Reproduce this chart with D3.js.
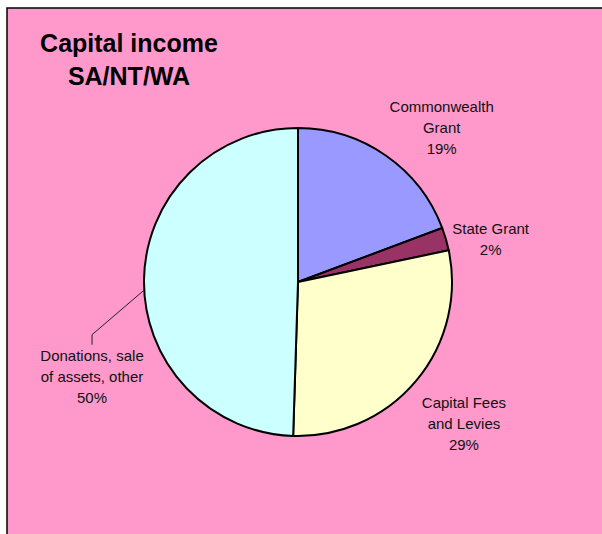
<!DOCTYPE html>
<html>
<head>
<meta charset="utf-8">
<script src="https://cdn.jsdelivr.net/npm/d3@7/dist/d3.min.js"></script>
<style>
  html, body { margin: 0; padding: 0; background: #fff; }
  svg { display: block; font-family: Arial, "Liberation Sans", sans-serif; }
</style>
</head>
<body>
<div id="chart"></div>
<script>
// chart data
var categories = ["Commonwealth Grant", "State Grant", "Capital Fees and Levies", "Donations, sale of assets, other"]
var labelLines = [["Commonwealth", "Grant"], ["State Grant"], ["Capital Fees", "and Levies"], ["Donations, sale", "of assets, other"]]
var shares = [19.3, 2.4, 28.8, 49.5]
var colors = ["#9999ff", "#993366", "#ffffcc", "#ccffff"]
var titleLines = ["Capital income", "SA/NT/WA"]

// layout tweaks for the labels (Excel does not put them exactly on the centroid)
var labelNudge = [[24, 19], [-9, 16], [5, 7], [4, 98]]

var width = 602, height = 534
var cx = 298, cy = 282, radius = 154
var lineH = 21

var svg = d3.select("#chart").append("svg").attr("width", width).attr("height", height)

// pink chart area with its frame
svg.append("rect").attr("x", 7).attr("y", 8).attr("width", width + 10).attr("height", height + 10)
    .style("fill", "#ff99cc").style("stroke", "#000").style("stroke-width", 1.5)

// title
svg.append("g").selectAll("text")
    .data(titleLines)
    .enter().append("text")
    .attr("x", 129)
    .attr("y", function(d, i) { return 52 + i * 33 })
    .attr("text-anchor", "middle")
    .style("font-size", "25px")
    .style("font-weight", "bold")
    .style("fill", "#000")
    .text(function(d) { return d })

var pie = d3.pie().sort(null).value(function(d) { return d })
var arcs = pie(shares)
var arc = d3.arc().innerRadius(0).outerRadius(radius)
var labelArc = d3.arc().innerRadius(210).outerRadius(210)

var g = svg.append("g").attr("transform", "translate(" + cx + "," + cy + ")")

g.selectAll(".slice")
    .data(arcs)
    .enter().append("path")
    .attr("class", "slice")
    .attr("d", arc)
    .style("fill", function(d, i) { return colors[i] })
    .style("stroke", "#000")
    .style("stroke-width", 2)
    .style("stroke-linejoin", "round")

// labels
var labels = g.selectAll(".lbl")
    .data(arcs)
    .enter().append("text")
    .attr("class", "lbl")
    .attr("text-anchor", "middle")
    .style("font-size", "15px")
    .style("fill", "#111")
    .each(function(d, i) {
        var c = labelArc.centroid(d)
        var x = c[0] + labelNudge[i][0]
        var yc = c[1] + labelNudge[i][1]
        var lines = labelLines[i].concat([Math.round(d.data) + "%"])
        var y0 = yc - (lines.length - 1) * lineH / 2 + 5
        var t = d3.select(this)
        lines.forEach(function(s, k) {
            t.append("tspan").attr("x", x).attr("y", y0 + k * lineH).text(s)
        })
    })

// leader line for the donations label
var dIdx = 3
var dc = labelArc.centroid(arcs[dIdx])
var lx = dc[0] + labelNudge[dIdx][0]
var lTop = dc[1] + labelNudge[dIdx][1] - (labelLines[dIdx].length) * lineH / 2 - 11
var a = 267 * Math.PI / 180
var start = [radius * Math.sin(a), -radius * Math.cos(a)]
g.append("path")
    .attr("d", d3.line()([start, [lx, lTop - 10], [lx, lTop]]))
    .style("fill", "none")
    .style("stroke", "#222")
    .style("stroke-width", 1)
</script>
</body>
</html>
